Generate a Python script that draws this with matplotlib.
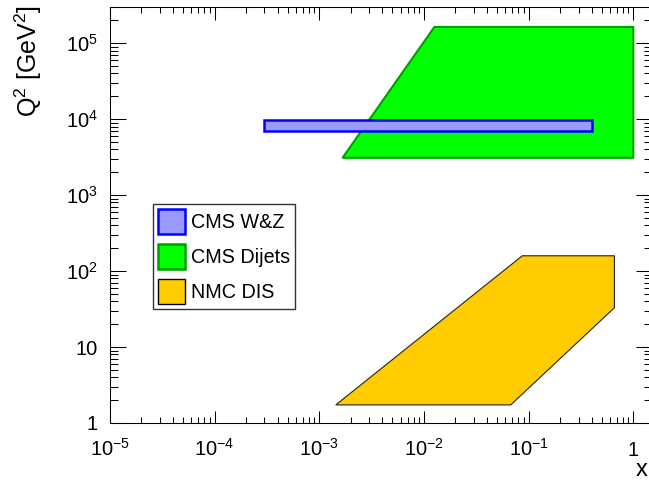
import matplotlib
matplotlib.use("Agg")
import matplotlib.pyplot as plt
from matplotlib.patches import Patch
from matplotlib.ticker import FixedLocator, LogLocator, NullFormatter
import numpy as np

plt.rcParams['font.family'] = ['Liberation Sans', 'DejaVu Sans']
plt.rcParams['mathtext.fontset'] = 'custom'
plt.rcParams['mathtext.rm'] = 'Liberation Sans'
plt.rcParams['mathtext.it'] = 'Liberation Sans:italic'
plt.rcParams['mathtext.bf'] = 'Liberation Sans:bold'
plt.rcParams['mathtext.default'] = 'regular'

# Kinematic coverage of each data set (x, Q^2 polygon vertices)
wz_x = [3.0e-4, 0.40, 0.40, 3.0e-4]
wz_q2 = [7.0e3, 7.0e3, 9.7e3, 9.7e3]

dijet_x = [1.67e-3, 1.26e-2, 1.0, 1.0]
dijet_q2 = [3.1e3, 1.64e5, 1.64e5, 3.1e3]

nmc_x = [1.44e-3, 0.0675, 0.66, 0.66, 0.087]
nmc_q2 = [1.73, 1.73, 32.9, 159.0, 159.0]

labels = ["CMS W&Z", "CMS Dijets", "NMC DIS"]

x_ticks = [1e-5, 1e-4, 1e-3, 1e-2, 1e-1, 1]
x_ticklabels = [r"$10^{-5}$", r"$10^{-4}$", r"$10^{-3}$", r"$10^{-2}$", r"$10^{-1}$", "1"]
y_ticks = [1, 10, 1e2, 1e3, 1e4, 1e5]
y_ticklabels = ["1", "10", r"$10^{2}$", r"$10^{3}$", r"$10^{4}$", r"$10^{5}$"]

fig = plt.figure(figsize=(6.49, 4.80), dpi=100)
ax = fig.add_axes([0.1692, 0.1188, 0.835, 0.8666])
ax.set_xscale('log')
ax.set_yscale('log')
ax.set_xlim(1e-5, 1.5)
ax.set_ylim(1, 3e5)

ax.fill(dijet_x, dijet_q2, facecolor='#00FF00', edgecolor='#00A000', linewidth=1.5, zorder=2)
ax.fill(wz_x, wz_q2, facecolor='#9999FF', edgecolor='#0000FF', linewidth=1.8, zorder=3)
ax.fill(nmc_x, nmc_q2, facecolor='#FFCC00', edgecolor='#222222', linewidth=0.8, zorder=2)

ax.xaxis.set_major_locator(FixedLocator(x_ticks))
ax.set_xticklabels(x_ticklabels)
ax.yaxis.set_major_locator(FixedLocator(y_ticks))
ax.set_yticklabels(y_ticklabels)
ax.xaxis.set_minor_locator(LogLocator(base=10, subs=np.arange(2, 10), numticks=20))
ax.yaxis.set_minor_locator(LogLocator(base=10, subs=np.arange(2, 10), numticks=20))
ax.xaxis.set_minor_formatter(NullFormatter())
ax.yaxis.set_minor_formatter(NullFormatter())

ax.tick_params(axis='both', which='both', direction='in', top=True, right=True,
               width=0.75, labelsize=14.5, colors='black')
ax.tick_params(axis='x', which='major', length=9.0, pad=23.8)
ax.tick_params(axis='x', which='minor', length=4.5)
ax.tick_params(axis='y', which='major', length=11.7, pad=8.7)
ax.tick_params(axis='y', which='minor', length=5.8)
for lab in ax.get_xticklabels():
    lab.set_verticalalignment('baseline')
for sp in ax.spines.values():
    sp.set_linewidth(0.75)

fig.text(28 / 649, 1 - 5 / 480, r"Q$^{2}$ [GeV$^{2}$]", rotation=90,
         ha='center', va='top', fontsize=18)
fig.text(0.9972, 1 - 475.5 / 480, "x", ha='right', va='baseline', fontsize=17)

handles = [
    Patch(facecolor='#9999FF', edgecolor='#0000FF', linewidth=1.8),
    Patch(facecolor='#00FF00', edgecolor='#00A000', linewidth=1.8),
    Patch(facecolor='#FFCC00', edgecolor='black', linewidth=1.0),
]
leg = fig.legend(handles, labels, loc='upper left',
                 bbox_to_anchor=(153.3 / 649, 1 - 204.3 / 480),
                 bbox_transform=fig.transFigure, fontsize=14.2,
                 frameon=True, fancybox=False, shadow=False,
                 borderpad=0.25, borderaxespad=0, handlelength=1.37,
                 handleheight=1.576, handletextpad=0.3, labelspacing=0.49)
leg.get_frame().set_edgecolor('black')
leg.get_frame().set_linewidth(1.0)

fig.savefig("out.png", dpi=100)
